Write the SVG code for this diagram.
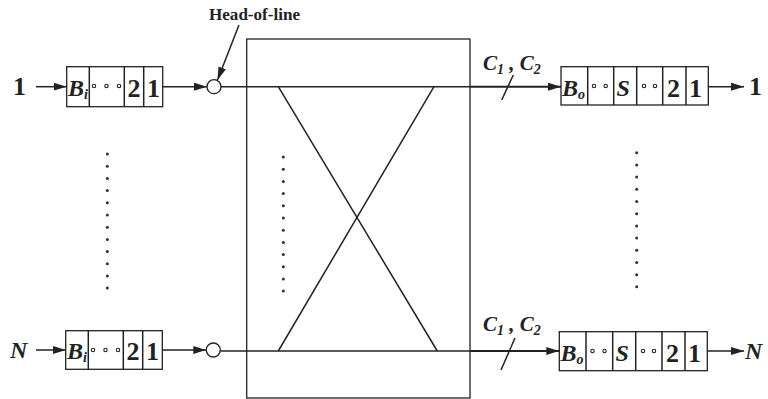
<svg xmlns="http://www.w3.org/2000/svg" width="768" height="399" viewBox="0 0 768 399">
<style>
.box{fill:#fff;stroke:#222;stroke-width:1.3}
.ln{stroke:#222;stroke-width:1.5;fill:none}
.thk{stroke:#222;stroke-width:2;fill:none}
.t{font-family:"Liberation Serif","Times New Roman",serif;font-weight:bold;fill:#222}
.i{font-style:italic}
.d{fill:#fff;stroke:#222;stroke-width:1.1}
.dd{fill:#333}
</style>
<defs>
<marker id="ah" markerWidth="13" markerHeight="8" refX="13" refY="4" orient="auto" markerUnits="userSpaceOnUse">
<path d="M0,0 L13,4 L0,8 Z" fill="#222"/>
</marker>
</defs>
<text class="t" x="209" y="20" font-size="17" textLength="91" lengthAdjust="spacingAndGlyphs">Head-of-line</text>

<g id="switch">
<rect class="box" x="246.7" y="39" width="223.3" height="359"/>
<line class="ln" x1="278.3" y1="86.7" x2="437.3" y2="351"/>
<line class="ln" x1="434" y1="86.7" x2="278.3" y2="351"/>
<g class="dd">
<circle cx="283.3" cy="157" r="1.5"/><circle cx="283.3" cy="169.2" r="1.5"/><circle cx="283.3" cy="181.4" r="1.5"/><circle cx="283.3" cy="193.6" r="1.5"/><circle cx="283.3" cy="205.8" r="1.5"/><circle cx="283.3" cy="218" r="1.5"/><circle cx="283.3" cy="230.2" r="1.5"/><circle cx="283.3" cy="242.4" r="1.5"/><circle cx="283.3" cy="254.6" r="1.5"/><circle cx="283.3" cy="266.8" r="1.5"/><circle cx="283.3" cy="279" r="1.5"/><circle cx="283.3" cy="291" r="1.5"/>
</g>
</g>

<g id="connectors">
<line class="ln" x1="36" y1="86.7" x2="66.7" y2="86.7" marker-end="url(#ah)"/>
<line class="ln" x1="36" y1="350" x2="65.7" y2="350" marker-end="url(#ah)"/>
<line class="ln" x1="162.7" y1="86.7" x2="207" y2="86.7" marker-end="url(#ah)"/>
<line class="ln" x1="162.3" y1="350" x2="206.3" y2="350" marker-end="url(#ah)"/>
<line class="ln" x1="239" y1="25" x2="217.5" y2="80" marker-end="url(#ah)"/>
<line class="ln" x1="221" y1="86.7" x2="470" y2="86.7"/>
<line class="thk" x1="470" y1="86.7" x2="561" y2="86.7" marker-end="url(#ah)"/>
<line class="ln" x1="220.3" y1="351" x2="470" y2="351"/>
<line class="thk" x1="470" y1="351" x2="559.3" y2="351" marker-end="url(#ah)"/>
<line class="ln" x1="501.7" y1="100" x2="513.3" y2="75"/>
<line class="ln" x1="501" y1="370" x2="515" y2="338"/>
<line class="ln" x1="708.3" y1="86.7" x2="744" y2="86.7" marker-end="url(#ah)"/>
<line class="ln" x1="707.3" y1="351" x2="744" y2="351" marker-end="url(#ah)"/>
</g>

<g id="labels">
<text class="t" x="13" y="95" font-size="26">1</text>
<text class="t i" x="10" y="358" font-size="24">N</text>
<text class="t" x="749" y="95" font-size="26">1</text>
<text class="t i" x="745" y="359" font-size="24">N</text>
<text class="t i" x="483" y="70" font-size="21">C<tspan font-size="14" dy="4">1</tspan><tspan dy="-4"> , C</tspan><tspan font-size="14" dy="4">2</tspan></text>
<text class="t i" x="483" y="331" font-size="21">C<tspan font-size="14" dy="4">1</tspan><tspan dy="-4"> , C</tspan><tspan font-size="14" dy="4">2</tspan></text>
</g>

<g id="hol1"><circle class="box" cx="214" cy="86.7" r="7"/></g>
<g id="holN"><circle class="box" cx="213.3" cy="350" r="7"/></g>

<g id="inq1">
<rect class="box" x="66.7" y="66.7" width="96" height="40"/>
<line class="ln" x1="89.3" y1="66.7" x2="89.3" y2="106.7"/>
<line class="ln" x1="124.3" y1="66.7" x2="124.3" y2="106.7"/>
<line class="ln" x1="143.7" y1="66.7" x2="143.7" y2="106.7"/>
<text class="t i" x="68" y="96" font-size="24">B<tspan font-size="14" dy="3">i</tspan></text>
<circle class="d" cx="94" cy="86" r="1.7"/><circle class="d" cx="106.5" cy="86" r="1.7"/><circle class="d" cx="119" cy="86" r="1.7"/>
<text class="t" x="127.5" y="97" font-size="26">2</text>
<text class="t" x="147" y="97" font-size="26">1</text>
</g>

<g id="inqN">
<rect class="box" x="65.7" y="330.7" width="96.6" height="38.6"/>
<line class="ln" x1="88.3" y1="330.7" x2="88.3" y2="369.3"/>
<line class="ln" x1="123.3" y1="330.7" x2="123.3" y2="369.3"/>
<line class="ln" x1="142.7" y1="330.7" x2="142.7" y2="369.3"/>
<text class="t i" x="67" y="359" font-size="24">B<tspan font-size="14" dy="3">i</tspan></text>
<circle class="d" cx="93" cy="350" r="1.7"/><circle class="d" cx="105.5" cy="350" r="1.7"/><circle class="d" cx="118" cy="350" r="1.7"/>
<text class="t" x="126.5" y="360" font-size="26">2</text>
<text class="t" x="146" y="360" font-size="26">1</text>
</g>

<g id="leftdots" class="dd">
<circle cx="107.3" cy="154" r="1.5"/><circle cx="107.3" cy="166.2" r="1.5"/><circle cx="107.3" cy="178.4" r="1.5"/><circle cx="107.3" cy="190.6" r="1.5"/><circle cx="107.3" cy="202.8" r="1.5"/><circle cx="107.3" cy="215" r="1.5"/><circle cx="107.3" cy="227.2" r="1.5"/><circle cx="107.3" cy="239.4" r="1.5"/><circle cx="107.3" cy="251.6" r="1.5"/><circle cx="107.3" cy="263.8" r="1.5"/><circle cx="107.3" cy="276" r="1.5"/><circle cx="107.3" cy="288" r="1.5"/>
</g>
<g id="rightdots" class="dd">
<circle cx="636.7" cy="152.7" r="1.5"/><circle cx="636.7" cy="164.9" r="1.5"/><circle cx="636.7" cy="177.1" r="1.5"/><circle cx="636.7" cy="189.3" r="1.5"/><circle cx="636.7" cy="201.5" r="1.5"/><circle cx="636.7" cy="213.7" r="1.5"/><circle cx="636.7" cy="225.9" r="1.5"/><circle cx="636.7" cy="238.1" r="1.5"/><circle cx="636.7" cy="250.3" r="1.5"/><circle cx="636.7" cy="262.5" r="1.5"/><circle cx="636.7" cy="274.7" r="1.5"/><circle cx="636.7" cy="286.7" r="1.5"/>
</g>

<g id="outq1">
<rect class="box" x="561" y="66.7" width="147.3" height="38.3"/>
<line class="ln" x1="587.7" y1="66.7" x2="587.7" y2="105"/>
<line class="ln" x1="613.7" y1="66.7" x2="613.7" y2="105"/>
<line class="ln" x1="636.7" y1="66.7" x2="636.7" y2="105"/>
<line class="ln" x1="662.7" y1="66.7" x2="662.7" y2="105"/>
<line class="ln" x1="686" y1="66.7" x2="686" y2="105"/>
<text class="t i" x="562" y="96" font-size="24">B<tspan font-size="14" dy="3">o</tspan></text>
<circle class="d" cx="594" cy="86" r="1.7"/><circle class="d" cx="605.7" cy="86" r="1.7"/>
<text class="t i" x="616.5" y="96" font-size="24">S</text>
<circle class="d" cx="644" cy="86" r="1.7"/><circle class="d" cx="655" cy="86" r="1.7"/>
<text class="t" x="667" y="97" font-size="26">2</text>
<text class="t" x="689" y="97" font-size="26">1</text>
</g>

<g id="outqN">
<rect class="box" x="559.3" y="331.7" width="148" height="39"/>
<line class="ln" x1="586" y1="331.7" x2="586" y2="370.7"/>
<line class="ln" x1="612.7" y1="331.7" x2="612.7" y2="370.7"/>
<line class="ln" x1="635.7" y1="331.7" x2="635.7" y2="370.7"/>
<line class="ln" x1="662" y1="331.7" x2="662" y2="370.7"/>
<line class="ln" x1="685" y1="331.7" x2="685" y2="370.7"/>
<text class="t i" x="560.5" y="361" font-size="24">B<tspan font-size="14" dy="3">o</tspan></text>
<circle class="d" cx="592.5" cy="351" r="1.7"/><circle class="d" cx="604.5" cy="351" r="1.7"/>
<text class="t i" x="615.5" y="361" font-size="24">S</text>
<circle class="d" cx="643" cy="351" r="1.7"/><circle class="d" cx="654" cy="351" r="1.7"/>
<text class="t" x="666" y="362" font-size="26">2</text>
<text class="t" x="688" y="362" font-size="26">1</text>
</g>
</svg>
